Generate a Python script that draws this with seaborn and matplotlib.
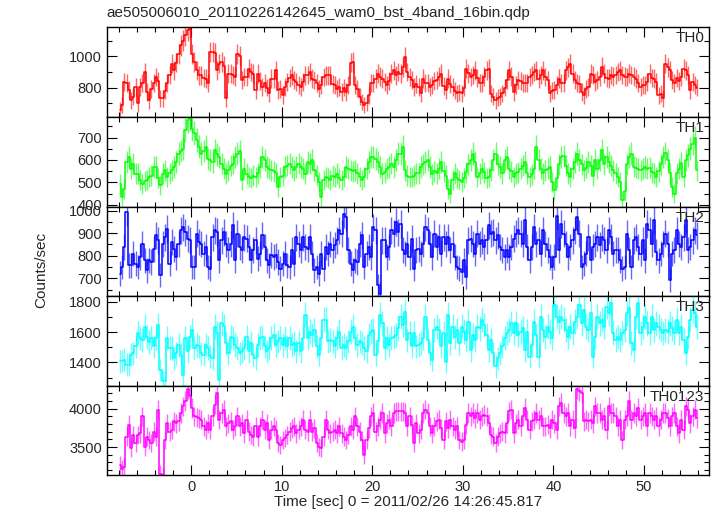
import numpy as np
import matplotlib
matplotlib.use("Agg")
import matplotlib.pyplot as plt
from matplotlib.ticker import MultipleLocator
import seaborn as sns

sns.set_style("ticks")
plt.rcParams['font.family'] = ['Liberation Sans', 'DejaVu Sans']

# 16-bin light curves: 0.25 s bins, first bin centre at -7.875 s
dt = 0.25
time = -7.875 + dt * np.arange(256)

# count rates (counts/sec), 4 bins per line = 1 s
th0 = [655, 690, 836, 830, 783, 719, 740, 804, 698, 804, 830, 900, 772, 719, 790, 826,
       868, 840, 730, 730, 780, 826, 880, 953, 910, 960, 1017, 1070, 1100, 1134, 1166, 1177,
       1017, 964, 910, 878, 878, 860, 857, 826, 1028, 1028, 1020, 910, 953, 964, 940, 730,
       889, 889, 880, 868, 1017, 1000, 847, 868, 868, 921, 900, 889, 783, 889, 840, 804,
       826, 800, 762, 857, 857, 910, 783, 790, 751, 804, 836, 860, 878, 850, 836, 815,
       804, 836, 878, 880, 900, 857, 847, 830, 793, 815, 868, 878, 878, 878, 820, 815,
       793, 804, 772, 800, 772, 815, 960, 964, 815, 793, 740, 708, 687, 700, 751, 826,
       826, 857, 889, 870, 857, 836, 815, 840, 889, 910, 878, 900, 889, 930, 996, 900,
       868, 850, 804, 820, 804, 762, 857, 830, 826, 804, 815, 840, 847, 870, 889, 810,
       783, 857, 820, 804, 780, 762, 770, 762, 800, 921, 890, 868, 880, 910, 860, 826,
       826, 870, 910, 921, 760, 740, 719, 735, 740, 762, 800, 847, 910, 870, 772, 815,
       847, 840, 826, 830, 826, 868, 880, 900, 910, 857, 880, 910, 868, 850, 762, 780,
       783, 815, 857, 830, 826, 910, 930, 953, 889, 847, 826, 820, 772, 751, 790, 804,
       889, 880, 836, 850, 868, 932, 889, 860, 857, 879, 870, 880, 900, 910, 879, 870,
       868, 889, 879, 870, 857, 830, 804, 815, 815, 836, 889, 860, 857, 836, 751, 760,
       730, 953, 930, 910, 847, 826, 860, 840, 868, 921, 910, 880, 783, 836, 815, 800]

th1 = [494, 434, 470, 591, 613, 561, 584, 539, 539, 509, 494, 505, 510, 524, 530, 569,
       569, 520, 486, 539, 554, 524, 540, 554, 569, 590, 628, 640, 651, 733, 778, 785,
       740, 718, 688, 658, 628, 640, 658, 606, 600, 591, 643, 625, 613, 584, 560, 539,
       554, 575, 584, 613, 628, 640, 509, 560, 539, 524, 520, 530, 524, 540, 569, 613,
       600, 569, 560, 554, 550, 540, 479, 524, 530, 569, 575, 584, 569, 554, 569, 584,
       569, 560, 539, 590, 584, 600, 554, 530, 500, 434, 509, 524, 520, 509, 530, 524,
       539, 520, 509, 524, 569, 560, 554, 550, 554, 540, 524, 509, 524, 560, 590, 613,
       613, 606, 590, 569, 539, 545, 560, 569, 584, 569, 600, 628, 628, 658, 554, 530,
       524, 524, 530, 540, 540, 569, 580, 590, 600, 569, 535, 550, 540, 560, 590, 550,
       530, 470, 449, 510, 540, 520, 510, 500, 520, 545, 580, 600, 628, 590, 524, 540,
       560, 545, 520, 524, 554, 600, 628, 580, 569, 540, 600, 613, 560, 550, 524, 540,
       545, 560, 575, 590, 540, 524, 535, 560, 658, 600, 560, 540, 554, 560, 569, 500,
       464, 520, 580, 613, 616, 575, 540, 524, 560, 590, 628, 600, 580, 554, 565, 590,
       575, 530, 600, 560, 600, 643, 580, 613, 590, 575, 554, 540, 524, 500, 419, 460,
       580, 613, 628, 570, 565, 560, 554, 560, 569, 560, 565, 545, 540, 524, 550, 580,
       613, 630, 600, 540, 480, 449, 540, 560, 585, 524, 600, 620, 650, 673, 700, 554]

th2 = [721, 750, 838, 993, 757, 757, 809, 765, 750, 794, 853, 779, 735, 779, 772, 831,
       890, 868, 713, 853, 882, 919, 765, 860, 831, 794, 853, 912, 926, 904, 875, 868,
       750, 750, 897, 860, 853, 809, 838, 750, 743, 882, 912, 905, 779, 868, 904, 853,
       824, 853, 934, 779, 897, 838, 824, 882, 875, 838, 779, 824, 868, 787, 809, 890,
       838, 779, 757, 802, 794, 801, 772, 743, 765, 809, 757, 750, 824, 765, 882, 853,
       824, 882, 838, 831, 882, 809, 735, 750, 721, 809, 743, 838, 809, 853, 824, 846,
       868, 912, 897, 985, 971, 824, 765, 735, 779, 772, 853, 890, 750, 809, 838, 794,
       926, 912, 669, 632, 868, 868, 794, 838, 912, 897, 949, 904, 941, 824, 809, 853,
       794, 875, 743, 824, 831, 809, 853, 926, 912, 853, 794, 897, 838, 882, 809, 882,
       853, 882, 824, 853, 794, 750, 743, 728, 779, 706, 868, 875, 853, 809, 897, 853,
       868, 838, 868, 934, 897, 904, 868, 890, 838, 824, 794, 824, 794, 838, 875, 897,
       912, 897, 853, 956, 838, 779, 838, 926, 853, 868, 809, 912, 853, 824, 794, 750,
       794, 978, 824, 941, 897, 853, 794, 838, 868, 912, 971, 897, 750, 765, 809, 882,
       779, 838, 853, 882, 846, 882, 868, 824, 912, 882, 809, 824, 824, 779, 743, 750,
       897, 824, 750, 868, 882, 838, 809, 868, 779, 941, 912, 853, 956, 816, 779, 809,
       853, 897, 853, 691, 809, 824, 912, 853, 838, 882, 956, 824, 838, 868, 912, 890]

th3 = [1407, 1410, 1417, 1385, 1385, 1450, 1461, 1505, 1592, 1560, 1550, 1636, 1570, 1537, 1560, 1505,
       1560, 1647, 1352, 1275, 1275, 1560, 1494, 1494, 1428, 1461, 1516, 1450, 1319, 1560, 1472, 1570,
       1614, 1494, 1516, 1505, 1461, 1450, 1516, 1494, 1440, 1428, 1636, 1592, 1286, 1658, 1640, 1527,
       1461, 1570, 1560, 1516, 1494, 1461, 1472, 1494, 1570, 1472, 1527, 1450, 1428, 1516, 1560, 1570,
       1505, 1472, 1494, 1560, 1581, 1516, 1538, 1560, 1516, 1560, 1505, 1560, 1516, 1527, 1472, 1527,
       1472, 1560, 1713, 1560, 1603, 1581, 1614, 1505, 1450, 1560, 1680, 1680, 1538, 1549, 1538, 1505,
       1560, 1603, 1494, 1516, 1494, 1538, 1603, 1636, 1560, 1516, 1538, 1527, 1494, 1472, 1581, 1603,
       1614, 1450, 1538, 1713, 1658, 1494, 1560, 1516, 1560, 1570, 1581, 1625, 1702, 1647, 1734, 1549,
       1592, 1505, 1592, 1505, 1516, 1528, 1560, 1702, 1549, 1461, 1417, 1614, 1636, 1614, 1505, 1592,
       1406, 1713, 1527, 1636, 1570, 1614, 1527, 1636, 1603, 1549, 1669, 1483, 1581, 1549, 1636, 1625,
       1680, 1647, 1581, 1483, 1549, 1461, 1374, 1428, 1461, 1505, 1560, 1592, 1614, 1658, 1592, 1658,
       1581, 1603, 1625, 1483, 1603, 1439, 1516, 1669, 1581, 1439, 1702, 1614, 1570, 1636, 1603, 1560,
       1778, 1702, 1669, 1702, 1680, 1614, 1570, 1636, 1592, 1669, 1702, 1778, 1658, 1745, 1636, 1614,
       1724, 1439, 1570, 1702, 1658, 1680, 1636, 1767, 1724, 1789, 1592, 1549, 1570, 1549, 1592, 1614,
       1724, 1756, 1527, 1483, 1702, 1789, 1592, 1636, 1702, 1658, 1592, 1702, 1614, 1658, 1636, 1614,
       1592, 1614, 1603, 1658, 1625, 1592, 1680, 1592, 1636, 1549, 1461, 1570, 1680, 1745, 1724, 1636]

th0123 = [3263, 3219, 3240, 3636, 3790, 3482, 3658, 3548, 3658, 3680, 3899, 3504, 3636, 3592, 3550, 3702,
          3636, 3987, 3154, 3130, 3592, 3811, 3702, 3724, 3833, 3811, 3833, 3943, 4031, 4100, 4250, 4160,
          4010, 3899, 3890, 3877, 3855, 3768, 3724, 3811, 3724, 3899, 4053, 4206, 3855, 3943, 3987, 3768,
          3811, 3833, 3724, 3768, 3899, 3768, 3811, 3680, 3855, 3702, 3658, 3636, 3768, 3636, 3768, 3855,
          3724, 3811, 3592, 3724, 3768, 3724, 3548, 3526, 3592, 3614, 3658, 3702, 3746, 3768, 3680, 3724,
          3768, 3855, 3724, 3702, 3855, 3702, 3746, 3548, 3504, 3482, 3636, 3855, 3724, 3680, 3702, 3724,
          3680, 3768, 3680, 3636, 3592, 3658, 3768, 3724, 3899, 3768, 3702, 3592, 3395, 3592, 3746, 3899,
          3943, 3702, 3768, 3855, 3943, 3680, 3811, 3855, 3768, 3943, 3965, 3965, 3965, 3965, 3943, 3768,
          3899, 3790, 3548, 3811, 3680, 3724, 3943, 3987, 3943, 3768, 3680, 3768, 3833, 3855, 3746, 3592,
          3833, 3746, 3855, 3768, 3724, 3768, 3592, 3570, 3592, 3790, 3943, 3899, 3943, 3877, 3943, 3855,
          3899, 3921, 3899, 3811, 3658, 3636, 3548, 3636, 3680, 3702, 3680, 3811, 3965, 3987, 3680, 3811,
          3855, 3768, 3899, 4010, 3855, 3724, 3833, 3855, 3943, 3855, 3899, 3768, 3768, 3790, 3746, 3855,
          3811, 3724, 4031, 4075, 3943, 3899, 3943, 3768, 3855, 3746, 4250, 4230, 4200, 3833, 3855, 3833,
          3855, 3811, 4031, 3943, 3943, 3855, 3899, 3724, 4031, 3943, 3943, 3899, 3768, 3855, 3592, 3855,
          3899, 4097, 3855, 3943, 3899, 4010, 3855, 3899, 3943, 3768, 3943, 3899, 3855, 3899, 3768, 3855,
          3943, 3943, 3877, 3768, 3899, 3943, 3768, 3680, 3855, 3724, 4031, 3987, 3811, 3899, 3987, 3877]

bands = ['TH0', 'TH1', 'TH2', 'TH3', 'TH0123']
rates = [th0, th1, th2, th3, th0123]
colors = ['#ff0000', '#00ff00', '#0000ff', '#00ffff', '#ff00ff']
ylims = [(612, 1185), (392, 792), (621, 1018), (1247, 1837), (3132, 4300)]
ymajor = [200, 100, 100, 200, 500]
yminor = [100, 50, 50, 100, 100]

fig, axes = plt.subplots(5, 1, figsize=(7.17, 5.16), dpi=100, sharex=True)
fig.subplots_adjust(left=0.149, right=0.989, top=0.947, bottom=0.079, hspace=0)

for i, ax in enumerate(axes):
    r = np.array(rates[i], dtype=float)
    err = np.sqrt(r * dt) / dt   # Poisson error of the rate
    ax.errorbar(time, r, yerr=err, fmt='none', ecolor=colors[i], elinewidth=1.0, alpha=0.6)
    sns.lineplot(x=time, y=r, drawstyle='steps-mid', color=colors[i], lw=1.1,
                 ax=ax, legend=False, errorbar=None)
    ax.set_xlim(-9.3, 57.2)
    ax.set_ylim(*ylims[i])
    ax.yaxis.set_major_locator(MultipleLocator(ymajor[i]))
    ax.yaxis.set_minor_locator(MultipleLocator(yminor[i]))
    ax.xaxis.set_major_locator(MultipleLocator(10))
    ax.xaxis.set_minor_locator(MultipleLocator(2))
    ax.tick_params(which='both', direction='in', top=True, right=True, labelsize=10.5, color='black')
    ax.tick_params(which='major', length=7, width=0.8)
    ax.tick_params(which='minor', length=3.5, width=0.8)
    for s in ax.spines.values():
        s.set_linewidth(1.0)
        s.set_color('black')
    ax.set_ylabel('')
    ax.set_xlabel('')
    ax.text(0.992, 0.955, bands[i], transform=ax.transAxes, ha='right', va='top', fontsize=11)

axes[-1].set_xlabel('Time [sec] 0 = 2011/02/26 14:26:45.817', fontsize=11, labelpad=1)
fig.text(0.058, 0.476, 'Counts/sec', rotation=90, ha='center', va='center', fontsize=11)
fig.text(0.149, 0.962, 'ae505006010_20110226142645_wam0_bst_4band_16bin.qdp',
         ha='left', va='bottom', fontsize=11)

fig.savefig('out.png', dpi=100)
